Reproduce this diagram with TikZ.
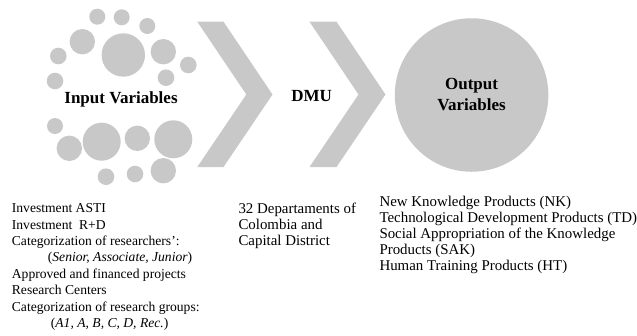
\documentclass[tikz,border=0pt]{standalone}
\usepackage{fontspec}
\setmainfont{Liberation Serif}
\definecolor{shapegray}{RGB}{200,200,200}
\tikzset{
  dot/.style={fill=shapegray,draw=none},
  chevron/.style={fill=shapegray,draw=none},
  headlabel/.style={inner sep=0pt,font=\fontsize{17}{21}\selectfont\bfseries,align=center},
  listtext/.style={inner sep=0pt,anchor=north west,align=left},
  leftfont/.style={font=\fontsize{13.6}{16.4}\selectfont},
  rightfont/.style={font=\fontsize{14.9}{16}\selectfont}
}
\begin{document}
\begin{tikzpicture}[x=1pt,y=-1pt]
\useasboundingbox (0,0) rectangle (637,335);
% input dots
\foreach \cx/\cy/\r in {97.3/16.7/8, 121.7/17.3/8, 147.3/26/8, 82.3/41.7/12.7, 123.3/55/21.7,
  163.3/51.7/12.7, 58.3/56/8.3, 188.3/65/8.3, 55/81/8.3, 166/77.7/8.3,
  55/126/8, 69.3/148.3/12.7, 101.7/141.7/19, 137.3/138.3/12.7, 173.3/139.3/19,
  106/176.7/8.3, 135/174/8.3, 163.3/170.7/12.7}
  \fill[dot] (\cx,\cy) circle[radius=\r];
% chevrons
\fill[chevron] (197.3,21.7) -- (223.5,21.7) -- (272.5,94.5) -- (223.5,167) -- (197.3,167) -- (246.3,94.5) -- cycle;
\fill[chevron] (309.5,21.7) -- (336.5,21.7) -- (385.5,94.5) -- (336.5,167) -- (309.5,167) -- (358.5,94.5) -- cycle;
% output circle
\node[circle,fill=shapegray,minimum size=153.5pt,inner sep=0pt] (out) at (471.6,95) {};
% labels
\node[headlabel] (inlab) at (121,99) {Input Variables};
\node[headlabel] (dmu) at (311.7,96.5) {DMU};
\node[headlabel] (outlab) at (471.6,94) {Output\\Variables};
% lists
\node[listtext,leftfont] (inlist) at (11.7,203.5) {Investment ASTI\\
Investment~ R+D\\
Categorization of researchers’:\\
\hspace*{36pt}(\textit{Senior, Associate, Junior})\\
Approved and financed projects\\
Research Centers\\
Categorization of research groups:\\
\hspace*{39pt}(\textit{A1, A, B, C, D, Rec.})};
\node[listtext,rightfont] (dmulist) at (238.3,203.1) {32 Departaments of\\
Colombia and\\
Capital District};
\node[listtext,rightfont] (outlist) at (379.3,196.1) {New Knowledge Products (NK)\\
Technological Development Products (TD)\\
Social Appropriation of the Knowledge\\
Products (SAK)\\
Human Training Products (HT)};
\end{tikzpicture}
\end{document}
